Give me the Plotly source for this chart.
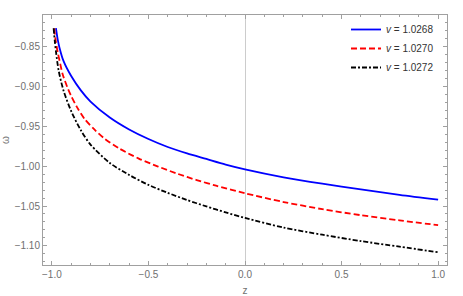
import plotly.graph_objects as go

# Data
z_blue = [-0.979, -0.97, -0.96, -0.94, -0.90, -0.85, -0.80, -0.70, -0.60, -0.50, -0.40,
          -0.30, -0.20, -0.10, 0.0, 0.2, 0.4, 0.6, 0.8, 1.0]
w_blue = [-0.827, -0.841, -0.852, -0.868, -0.887, -0.905, -0.919, -0.939, -0.954, -0.966, -0.976,
          -0.984, -0.991, -0.998, -1.004, -1.014, -1.022, -1.029, -1.036, -1.042]

z_red = [-0.988, -0.98, -0.97, -0.96, -0.945, -0.92, -0.90, -0.87, -0.83, -0.78, -0.73,
         -0.65, -0.55, -0.45, -0.35, -0.25, -0.15, 0.0, 0.2, 0.4, 0.6, 0.8, 1.0]
w_red = [-0.827, -0.843, -0.857, -0.868, -0.884, -0.901, -0.912, -0.926, -0.941, -0.954, -0.965,
         -0.978, -0.9905, -1.0005, -1.0095, -1.0175, -1.0245, -1.034, -1.045, -1.054, -1.0615, -1.068, -1.074]

z_black = [-0.991, -0.985, -0.978, -0.965, -0.94, -0.90, -0.85, -0.80, -0.70, -0.60, -0.50,
           -0.40, -0.30, -0.20, -0.10, 0.0, 0.2, 0.4, 0.6, 0.8, 1.0]
w_black = [-0.827, -0.843, -0.858, -0.880, -0.905, -0.931, -0.955, -0.973, -0.996, -1.011, -1.0235,
           -1.0335, -1.0425, -1.0505, -1.058, -1.065, -1.077, -1.086, -1.094, -1.101, -1.108]

names = ["<i>v</i> = 1.0268", "<i>v</i> = 1.0270", "<i>v</i> = 1.0272"]

x_ticks = [-1.0, -0.5, 0.0, 0.5, 1.0]
x_labels = ["−1.0", "−0.5", "0.0", "0.5", "1.0"]
y_ticks = [-0.85, -0.90, -0.95, -1.00, -1.05, -1.10]
y_labels = ["−0.85", "−0.90", "−0.95", "−1.00", "−1.05", "−1.10"]

FONT = "Liberation Sans, Arial, sans-serif"

fig = go.Figure()
fig.add_trace(go.Scatter(x=z_blue, y=w_blue, mode="lines", name=names[0],
                         line=dict(color="#0000ff", width=1.8, shape="spline", smoothing=0.8)))
fig.add_trace(go.Scatter(x=z_red, y=w_red, mode="lines", name=names[1],
                         line=dict(color="#ff0000", width=1.8, dash="6px,3px", shape="spline", smoothing=0.8)))
fig.add_trace(go.Scatter(x=z_black, y=w_black, mode="lines", name=names[2],
                         line=dict(color="#000000", width=1.8, dash="5px,2px,2px,2px", shape="spline", smoothing=0.8)))

axis_common = dict(
    showline=True, linecolor="#a0a0a0", linewidth=1, mirror="allticks",
    ticks="inside", ticklen=4, tickcolor="#a0a0a0", tickwidth=1,
    showgrid=False, automargin=False,
    tickfont=dict(family=FONT, size=10, color="#707070"),
)

fig.update_xaxes(
    range=[-1.046, 1.046], tickvals=x_ticks, ticktext=x_labels,
    zeroline=True, zerolinecolor="#cccccc", zerolinewidth=1,
    minor=dict(ticks="inside", ticklen=2, tickcolor="#a0a0a0", dtick=0.1, showgrid=False),
    title=dict(text="z", font=dict(family=FONT, size=10, color="#707070"), standoff=8),
    **axis_common,
)
fig.update_yaxes(
    range=[-1.124, -0.8104], tickvals=y_ticks, ticktext=y_labels,
    zeroline=False,
    minor=dict(ticks="inside", ticklen=2, tickcolor="#a0a0a0", dtick=0.01, tick0=-0.85, showgrid=False),
    title=dict(text="ω", font=dict(family=FONT, size=10, color="#707070"), standoff=6),
    **axis_common,
)

fig.update_layout(
    width=463, height=296,
    margin=dict(l=43, r=16, t=15, b=31),
    paper_bgcolor="white", plot_bgcolor="white",
    showlegend=True,
    legend=dict(x=0.75, y=1.0, xanchor="left", yanchor="top",
                bgcolor="rgba(255,255,255,0)", tracegroupgap=0,
                font=dict(family=FONT, size=10, color="#333333"),
                itemwidth=30),
)

fig.write_html("out.html",
               config={"displayModeBar": False},
               post_script="document.body.style.margin='0';document.body.style.padding='0';")
